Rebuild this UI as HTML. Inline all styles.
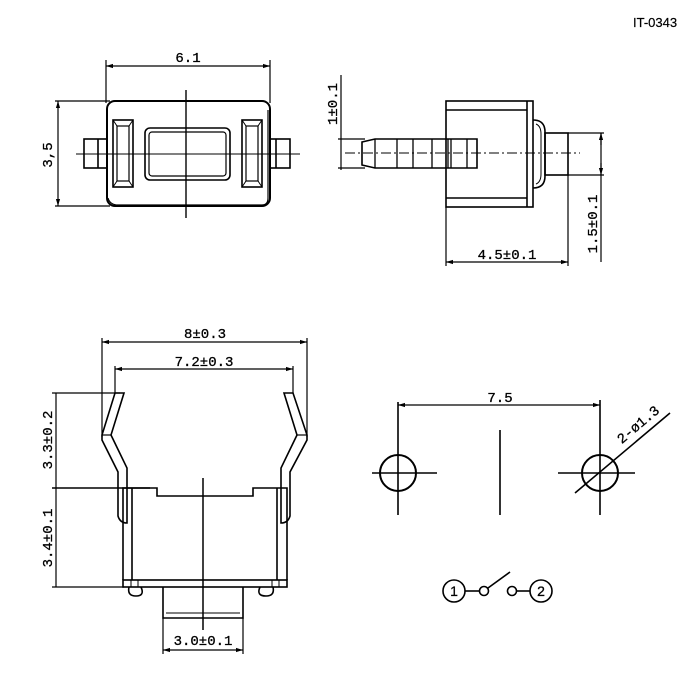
<!DOCTYPE html>
<html><head><meta charset="utf-8"><style>
html,body{margin:0;padding:0;background:#fff;width:700px;height:700px;overflow:hidden}
svg text{font-family:"Liberation Mono",monospace;font-size:14px;fill:#000;stroke:#000;stroke-width:0.3}
</style></head><body>
<svg width="700" height="700" viewBox="0 0 700 700" xmlns="http://www.w3.org/2000/svg">
<defs>
<marker id="a" viewBox="0 0 10 10" refX="10" refY="5" markerWidth="6" markerHeight="6" orient="auto-start-reverse"><path d="M0,2 L10,5 L0,8z" fill="#000"/></marker>
</defs>
<text x="633" y="27" style="font-family:'Liberation Sans',sans-serif;font-size:13px;stroke-width:0.2">IT-0343</text>
<g fill="none" stroke="#000" stroke-width="1.6">
<line x1="106" y1="60" x2="106" y2="103" stroke-width="1.2"/>
<line x1="270" y1="60" x2="270" y2="103" stroke-width="1.2"/>
<line x1="106" y1="66" x2="270" y2="66" stroke-width="1.2" marker-start="url(#a)" marker-end="url(#a)"/>
<line x1="55" y1="101" x2="110" y2="101" stroke-width="1.2"/>
<line x1="55" y1="206" x2="110" y2="206" stroke-width="1.2"/>
<line x1="58" y1="101" x2="58" y2="206" stroke-width="1.2" marker-start="url(#a)" marker-end="url(#a)"/>
<rect x="107" y="101" width="163" height="105" rx="8" stroke-width="2"/>
<path d="M108,198 Q110,205 118,205 L262,205 Q268,205 268,198 L268,110" stroke-width="1.2"/>
<rect x="84" y="139" width="23" height="29"/><line x1="98" y1="139" x2="98" y2="168"/>
<rect x="270" y="139" width="20" height="29"/><line x1="276" y1="139" x2="276" y2="168"/>
<rect x="113" y="120" width="20" height="67"/><rect x="117" y="126" width="12" height="55" stroke-width="1.2"/>
<path d="M113,120 L117,126 M133,120 L129,126 M113,187 L117,181 M133,187 L129,181" stroke-width="1"/>
<rect x="242" y="120" width="20" height="67"/><rect x="246" y="126" width="12" height="55" stroke-width="1.2"/>
<path d="M242,120 L246,126 M262,120 L258,126 M242,187 L246,181 M262,187 L258,181" stroke-width="1"/>
<rect x="145" y="128" width="85" height="52" rx="5"/><rect x="149" y="132" width="77" height="44" rx="3" stroke-width="1.2"/>
<line x1="76" y1="154" x2="300" y2="154" stroke-width="1"/>
<line x1="186" y1="90" x2="186" y2="218" stroke-width="1.4"/>
<line x1="341" y1="75" x2="341" y2="170" stroke-width="1.2"/>
<line x1="338" y1="139" x2="365" y2="139" stroke-width="1.2"/>
<line x1="338" y1="168" x2="365" y2="168" stroke-width="1.2"/>
<rect x="446" y="101" width="87" height="106"/>
<line x1="446" y1="110" x2="527" y2="110"/><line x1="446" y1="198" x2="527" y2="198"/>
<line x1="527" y1="101" x2="527" y2="207"/>
<path d="M533,120 Q545,120 545,132 L545,176 Q545,188 533,188"/>
<path d="M536,124 Q541,126 541,134 L541,174 Q541,182 536,184" stroke-width="1"/>
<rect x="545" y="133" width="23" height="42"/>
<path d="M362,142 L375,139 L477,139 L477,168 L375,168 L362,165 Z"/>
<path d="M375,139 V168 M397,139 V168 M413,139 V168 M432,139 V168 M448,139 V168 M451,139 V168 M467,139 V168" stroke-width="1.3"/>
<line x1="345" y1="153" x2="580" y2="153" stroke-width="1" stroke-dasharray="10,3,2,3"/>
<line x1="446" y1="207" x2="446" y2="266" stroke-width="1.2"/>
<line x1="568" y1="175" x2="568" y2="266" stroke-width="1.2"/>
<line x1="446" y1="262" x2="568" y2="262" stroke-width="1.2" marker-start="url(#a)" marker-end="url(#a)"/>
<line x1="568" y1="133" x2="604" y2="133" stroke-width="1.2"/>
<line x1="568" y1="175" x2="604" y2="175" stroke-width="1.2"/>
<line x1="601" y1="133" x2="601" y2="262" stroke-width="1.2"/>
<line x1="601" y1="145" x2="601" y2="133" stroke-width="1.2" marker-end="url(#a)"/>
<line x1="601" y1="163" x2="601" y2="175" stroke-width="1.2" marker-end="url(#a)"/>
<line x1="102" y1="342" x2="307" y2="342" stroke-width="1.2" marker-start="url(#a)" marker-end="url(#a)"/>
<line x1="102" y1="338" x2="102" y2="437" stroke-width="1.2"/>
<line x1="307" y1="338" x2="307" y2="437" stroke-width="1.2"/>
<line x1="115" y1="369" x2="293" y2="369" stroke-width="1.2" marker-start="url(#a)" marker-end="url(#a)"/>
<line x1="115" y1="366" x2="115" y2="393" stroke-width="1.2"/>
<line x1="293" y1="366" x2="293" y2="393" stroke-width="1.2"/>
<path d="M115,393 L124,393 L111,435 L127,468 L127,523 Q120,523 118,516 L118,472 L102,440 L102,435 Z"/>
<line x1="102" y1="435" x2="111" y2="435" stroke-width="1.2"/>
<path d="M293,393 L284,393 L297,435 L281,468 L281,523 Q288,523 290,516 L290,472 L307,440 L307,435 Z"/>
<line x1="307" y1="435" x2="297" y2="435" stroke-width="1.2"/>
<path d="M123,580 L123,488 L157,488 L157,496 L253,496 L253,488 L287,488 L287,580"/>
<line x1="132" y1="488" x2="132" y2="580"/><line x1="277" y1="488" x2="277" y2="580"/>
<rect x="123" y="580" width="164" height="7"/>
<rect x="131" y="580" width="7" height="7" stroke-width="1"/><rect x="272" y="580" width="7" height="7" stroke-width="1"/>
<path d="M129,587 Q127,596 136,596 Q145,596 141,587"/>
<path d="M260,587 Q256,596 266,596 Q275,596 273,587"/>
<path d="M163,587 L163,618 L243,618 L243,587"/><line x1="166" y1="613" x2="240" y2="613" stroke-width="1"/>
<line x1="203" y1="478" x2="203" y2="630" stroke-width="1.5"/>
<line x1="163" y1="618" x2="163" y2="654" stroke-width="1.2"/>
<line x1="243" y1="618" x2="243" y2="654" stroke-width="1.2"/>
<line x1="163" y1="650" x2="243" y2="650" stroke-width="1.2" marker-start="url(#a)" marker-end="url(#a)"/>
<line x1="52" y1="393" x2="120" y2="393" stroke-width="1.2"/>
<line x1="52" y1="488" x2="150" y2="488" stroke-width="1.4"/>
<line x1="52" y1="587" x2="124" y2="587" stroke-width="1.2"/>
<line x1="56" y1="393" x2="56" y2="587" stroke-width="1.2"/>
<line x1="398" y1="405" x2="600" y2="405" stroke-width="1.2" marker-start="url(#a)" marker-end="url(#a)"/>
<line x1="398" y1="402" x2="398" y2="515"/>
<line x1="600" y1="400" x2="600" y2="515"/>
<circle cx="398" cy="473" r="18" stroke-width="2"/>
<line x1="372" y1="473" x2="437" y2="473"/>
<circle cx="600" cy="473" r="18" stroke-width="2"/>
<line x1="558" y1="473" x2="635" y2="473"/>
<line x1="500" y1="430" x2="500" y2="515"/>
<line x1="575" y1="493" x2="670" y2="413"/>
<circle cx="454" cy="591" r="11" stroke-width="1.6"/>
<line x1="465" y1="591" x2="480" y2="591"/>
<circle cx="484" cy="591" r="4.5"/>
<line x1="488" y1="588" x2="510" y2="572"/>
<circle cx="512" cy="591" r="4.5"/>
<line x1="516" y1="591" x2="530" y2="591"/>
<circle cx="541" cy="591" r="11" stroke-width="1.6"/>
</g>
<text x="188" y="62" text-anchor="middle">6.1</text>
<text transform="translate(52,155) rotate(-90)" text-anchor="middle">3,5</text>
<text transform="translate(337,104) rotate(-90)" text-anchor="middle">1±0.1</text>
<text transform="translate(597,224) rotate(-90)" text-anchor="middle">1.5±0.1</text>
<text x="507" y="259" text-anchor="middle">4.5±0.1</text>
<text x="205" y="338" text-anchor="middle">8±0.3</text>
<text x="204" y="366" text-anchor="middle">7.2±0.3</text>
<text transform="translate(52,440) rotate(-90)" text-anchor="middle">3.3±0.2</text>
<text transform="translate(52,538) rotate(-90)" text-anchor="middle">3.4±0.1</text>
<text x="203" y="645" text-anchor="middle">3.0±0.1</text>
<text x="500" y="402" text-anchor="middle">7.5</text>
<text transform="translate(641,428) rotate(-40)" text-anchor="middle">2-ø1.3</text>
<text x="454" y="596" text-anchor="middle" style="font-family:'Liberation Sans',sans-serif;font-size:14px">1</text>
<text x="541" y="596" text-anchor="middle" style="font-family:'Liberation Sans',sans-serif;font-size:14px">2</text>
</svg>
</body></html>
